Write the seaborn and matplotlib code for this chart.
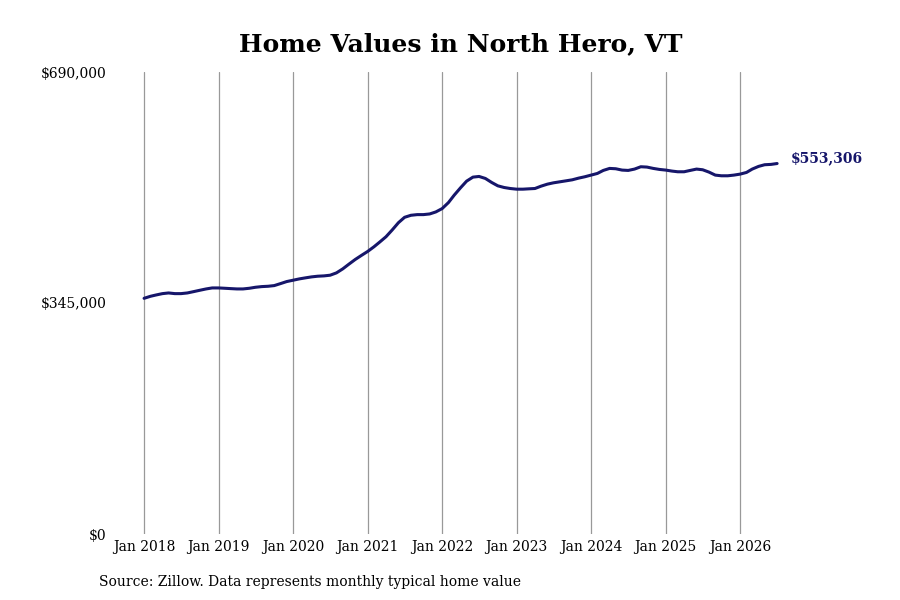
import matplotlib
matplotlib.use("Agg")
from matplotlib import pyplot as plt
import matplotlib.dates as mdates
import seaborn as sns
import pandas as pd

# Monthly typical home value (thousands of $)
months = pd.date_range("2018-01-01", "2026-07-01", freq="MS")
values_k = [
    352, 355, 357, 359, 360, 359, 359, 360, 362, 364, 366, 367.5,        # 2018
    367.5, 367, 366.5, 366, 366, 367, 368.5, 369.5, 370, 371, 374, 377,  # 2019
    379, 381, 382.5, 384, 385, 385.5, 386.5, 390, 396, 403, 410, 416,    # 2020
    422, 429, 436, 444, 454, 465, 473, 476, 477, 477, 478, 481,          # 2021
    486, 495, 506, 517, 527, 533, 534, 531, 525, 520, 517.5, 516,        # 2022
    515, 515, 515.5, 516, 519.5, 522.5, 524.5, 526, 527.5, 529, 531.5, 533.5,  # 2023
    536, 538.5, 543, 546, 545.5, 543.5, 543, 545, 548.5, 548, 546, 544.5,      # 2024
    543.5, 542, 541, 541, 543, 545, 544, 540.5, 536, 535, 535, 536,            # 2025
    537.5, 540, 545, 549, 551.5, 552, 553.306,                                 # 2026
]
y_ticks = [0, 345000, 690000]
y_labels = ["$0", "$345,000", "$690,000"]
last_label = "$553,306"

df = pd.DataFrame({"date": months, "value": [v * 1000 for v in values_k]})

sns.set_theme(style="white")
plt.rcParams["font.family"] = ["DejaVu Serif"]
plt.rcParams["text.color"] = "black"
plt.rcParams["xtick.color"] = "black"
plt.rcParams["ytick.color"] = "black"

fig = plt.figure(figsize=(9, 6), dpi=100)
ax = fig.add_axes([140 / 900, 1 - 534 / 600, 642 / 900, 462 / 600])

line_color = "#16166a"
sns.lineplot(data=df, x="date", y="value", ax=ax, color=line_color, linewidth=2.2)

ax.set_ylim(0, 690000)
ax.set_xlim(pd.Timestamp("2017-12-12"), pd.Timestamp("2026-07-25"))
ax.set_yticks(y_ticks)
ax.set_yticklabels(y_labels, fontsize=10)

years = pd.date_range("2018-01-01", "2026-01-01", freq="YS")
ax.set_xticks(years)
ax.xaxis.set_major_formatter(mdates.DateFormatter("%b %Y"))
ax.tick_params(axis="x", labelsize=10, length=0, pad=4)
ax.tick_params(axis="y", length=0, pad=24)

ax.grid(axis="x", color="#999999", linewidth=0.9)
ax.grid(axis="y", visible=False)
for s in ax.spines.values():
    s.set_visible(False)
ax.set_xlabel("")
ax.set_ylabel("")

ax.annotate(last_label, xy=(df.date.iloc[-1], df.value.iloc[-1]),
            xytext=(10, 4), textcoords="offset points",
            fontsize=10, fontweight="bold", color=line_color, va="center")

fig.text(0.512, 1 - 44 / 600, "Home Values in North Hero, VT",
         ha="center", va="center", fontsize=18, fontweight="bold")
fig.text(99 / 900, 1 - 582 / 600,
         "Source: Zillow. Data represents monthly typical home value",
         ha="left", va="center", fontsize=10)

fig.savefig("out.png", dpi=100)
